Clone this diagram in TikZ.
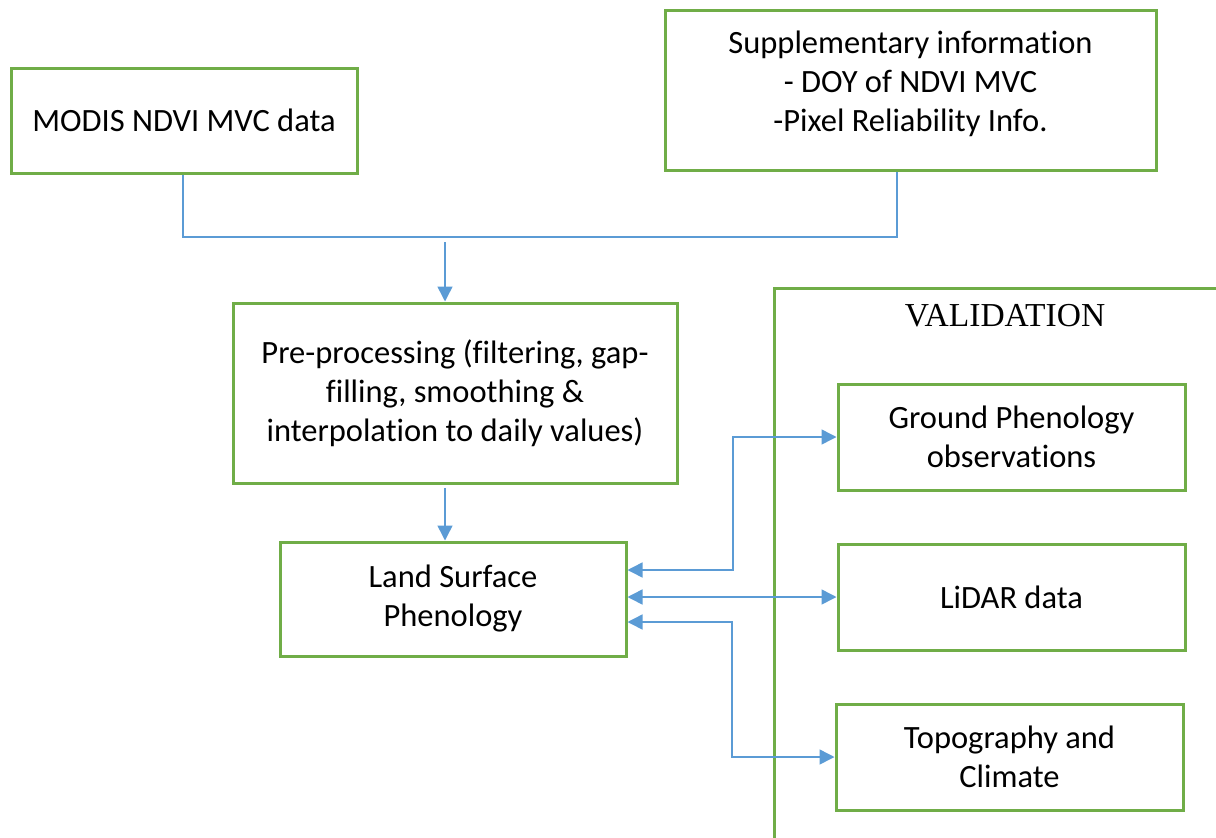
\documentclass[tikz,border=0pt]{standalone}
\usepackage{fontspec}
\setmainfont{Carlito}[Ligatures={NoCommon,NoRequired,NoContextual}]
\newfontfamily\tnr{Liberation Serif}
\usetikzlibrary{arrows.meta}
\definecolor{boxgreen}{HTML}{70AD47}
\definecolor{lineblue}{HTML}{5B9BD5}
\tikzset{
  box/.style={draw=boxgreen, line width=3pt, rectangle, align=center, inner sep=0pt,
              font=\fontsize{32.5}{39}\selectfont},
  conn/.style={draw=lineblue, line width=1.5pt},
  arr/.style={conn, -{Triangle[length=15pt,width=15pt]}},
  darr/.style={conn, {Triangle[length=15pt,width=15pt]}-{Triangle[length=15pt,width=15pt]}},
}
\begin{document}
\begin{tikzpicture}[x=1pt,y=-1pt]
\useasboundingbox (0,0) rectangle (1216,838);
% boxes
\node[box, minimum width=346pt, minimum height=105pt] (modis) at (184,120.5) {MODIS NDVI MVC data};
\node[box, minimum width=491pt, minimum height=160pt] (supp) at (910.5,90) {};
\node[align=center, inner sep=0pt, font=\fontsize{32.5}{39}\selectfont] (supptext) at (910.5,84)
  {Supplementary information\\- DOY of NDVI MVC\\-Pixel Reliability Info.};
\node[box, minimum width=444pt, minimum height=180pt] (pre) at (455,393)
  {Pre-processing (filtering, gap-\\filling, smoothing \&\\interpolation to daily values)};
\node[box, minimum width=346pt, minimum height=114pt] (lsp) at (453,599) {Land Surface\\Phenology};
% validation frame
\coordinate (vb) at (774,838);
\coordinate (vt) at (774,288);
\coordinate (vr) at (1216,288);
\draw[boxgreen, line width=3pt] (vb) -- (vt) -- (vr);
\node[inner sep=0pt, font=\tnr\fontsize{33.5}{37}\selectfont] (valtitle) at (1005,316) {VALIDATION};
\node[box, minimum width=347pt, minimum height=106pt] (gp) at (1011.5,437) {Ground Phenology\\observations};
\node[box, minimum width=347pt, minimum height=106pt] (lidar) at (1011.5,597) {LiDAR data};
\node[box, minimum width=347pt, minimum height=106pt] (topo) at (1009.5,757) {Topography and\\Climate};
% connectors
\coordinate (j1) at (183,237);
\coordinate (j2) at (897,237);
\draw[conn] (modis.south -| j1) -- (j1) -- (j2) -- (j2 |- supp.south);
\coordinate (a0) at (445,242);
\draw[arr] (a0) -- (a0 |- pre.north);
\coordinate (a1) at (445,488);
\draw[arr] (a1) -- (a1 |- lsp.north);
\coordinate (r1) at (733,570);
\coordinate (r3) at (732,622);
\draw[darr] (lsp.east |- r1) -- (r1) -- (r1 |- gp.west) -- (gp.west);
\draw[darr] (lsp.east |- lidar.west) -- (lidar.west);
\draw[darr] (lsp.east |- r3) -- (r3) -- (r3 |- topo.west) -- (topo.west);
\end{tikzpicture}
\end{document}
